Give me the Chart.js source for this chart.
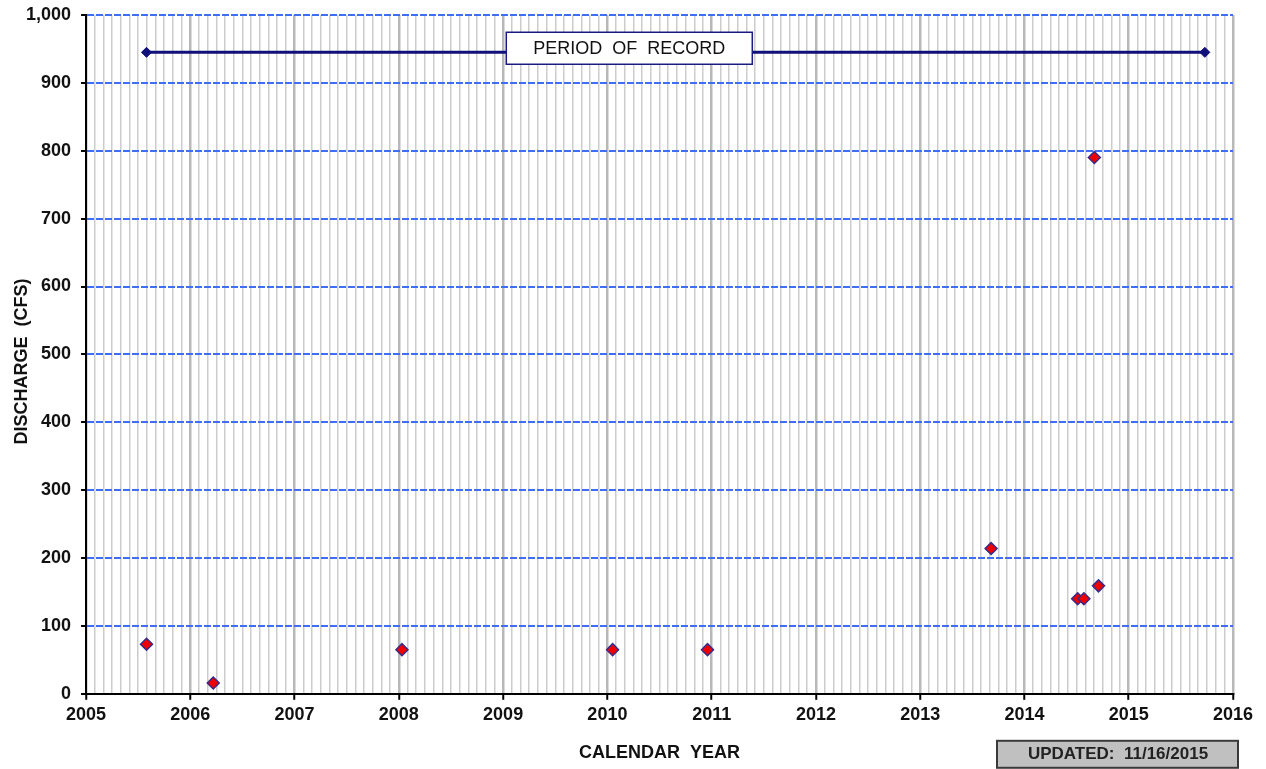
<!DOCTYPE html>
<html>
<head>
<meta charset="utf-8">
<script src="https://cdn.jsdelivr.net/npm/chart.js@4.4.1/dist/chart.umd.min.js"></script>
<style>
  html, body { margin: 0; padding: 0; background: #fff; }
</style>
</head>
<body>
<canvas id="myChart" width="1266" height="769"></canvas>
<script>
// measured discharges (decimal year, cfs)
const sampleYears = [2005.58, 2006.22, 2008.03, 2010.05, 2010.96, 2013.68, 2014.51, 2014.57, 2014.67, 2014.71];
const sampleDischarge = [73, 16, 65, 65, 65, 214, 140, 140, 790, 159];

// period of record bar
const recordYears = [2005.58, 2015.73];
const recordLevel = [945, 945];
const recordLabel = 'PERIOD  OF  RECORD';
const recordLabelAt = [2010.21, 951];

const yearLabels = ['2005', '2006', '2007', '2008', '2009', '2010', '2011', '2012', '2013', '2014', '2015', '2016'];
const yTitle = 'DISCHARGE  (CFS)';
const xTitle = 'CALENDAR  YEAR';
const updatedText = 'UPDATED:  11/16/2015';

const fontName = '"Liberation Sans", Arial, sans-serif';
const blueGrid = '#3d6ef5';

function isYear(v) {
    return Math.abs(v - Math.round(v)) < 1e-6;
}

const boxesPlugin = {
    id: 'boxes',
    afterDatasetsDraw(chart) {
        const ctx = chart.ctx;
        const area = chart.chartArea;
        const xs = chart.scales.x;
        const ys = chart.scales.y;
        // period of record label
        const cx = xs.getPixelForValue(recordLabelAt[0]);
        const cy = ys.getPixelForValue(recordLabelAt[1]);
        ctx.save();
        ctx.font = '18px ' + fontName;
        ctx.fillStyle = '#fff';
        ctx.strokeStyle = '#1a1a80';
        ctx.lineWidth = 1.5;
        ctx.fillRect(cx - 123, cy - 16, 246, 32);
        ctx.strokeRect(cx - 123, cy - 16, 246, 32);
        ctx.fillStyle = '#111';
        ctx.textAlign = 'center';
        ctx.textBaseline = 'middle';
        ctx.fillText(recordLabel, cx, cy + 1);

        // y axis title (drawn by hand so it can sit close to the labels)
        ctx.save();
        ctx.translate(area.left - 64, (area.top + area.bottom) / 2 + 7);
        ctx.rotate(-Math.PI / 2);
        ctx.font = 'bold 18px ' + fontName;
        ctx.fillText(yTitle, 0, 0);
        ctx.restore();

        // updated box, bottom right under the plot
        const right = area.right + 5;
        const top = area.bottom + 47;
        ctx.fillStyle = '#c0c0c0';
        ctx.strokeStyle = '#3a3a3a';
        ctx.lineWidth = 2;
        ctx.fillRect(right - 241, top, 241, 27);
        ctx.strokeRect(right - 241, top, 241, 27);
        ctx.fillStyle = '#222';
        ctx.font = 'bold 17px ' + fontName;
        ctx.fillText(updatedText, right - 120, top + 14);
        ctx.restore();
    }
};

const ctx = document.getElementById('myChart').getContext('2d');
const myChart = new Chart(ctx, {
    type: 'scatter',
    data: {
        datasets: [
            {
                label: 'Period of record',
                data: recordYears.map((x, i) => ({ x: x, y: recordLevel[i] })),
                showLine: true,
                borderColor: '#10107a',
                backgroundColor: '#10107a',
                borderWidth: 3,
                pointStyle: 'rectRot',
                pointRadius: 5,
                pointBorderWidth: 1
            },
            {
                label: 'Discharge',
                data: sampleYears.map((x, i) => ({ x: x, y: sampleDischarge[i] })),
                backgroundColor: '#ee0000',
                borderColor: '#3a2a8a',
                borderWidth: 1.5,
                pointStyle: 'rectRot',
                pointRadius: 6
            }
        ]
    },
    options: {
        responsive: false,
        animation: false,
        layout: { padding: { left: 16, right: 33, top: 15, bottom: 5 } },
        plugins: {
            legend: { display: false },
            tooltip: { enabled: false }
        },
        scales: {
            x: {
                type: 'linear',
                min: 2005,
                max: 2016,
                afterBuildTicks(scale) {
                    const ticks = [];
                    for (let y = 0; y < yearLabels.length; y++) {
                        const year = Number(yearLabels[y]);
                        ticks.push({ value: year });
                        if (y < yearLabels.length - 1) {
                            for (let m = 1; m < 12; m++) ticks.push({ value: year + m / 12 });
                        }
                    }
                    scale.ticks = ticks;
                },
                ticks: {
                    autoSkip: false,
                    maxRotation: 0,
                    padding: 4,
                    color: '#111',
                    font: { family: fontName, size: 18, weight: 'bold' },
                    callback: v => isYear(v) ? String(Math.round(v)) : ''
                },
                grid: {
                    color: c => isYear(c.tick.value) ? '#b8b8b8' : '#cccccc',
                    lineWidth: c => isYear(c.tick.value) ? 2.5 : 1.5,
                    tickColor: c => isYear(c.tick.value) ? '#000' : 'rgba(0,0,0,0)',
                    tickLength: 6,
                    tickWidth: 2
                },
                border: { color: '#000', width: 2 },
                title: {
                    display: true,
                    text: xTitle,
                    color: '#111',
                    font: { family: fontName, size: 18, weight: 'bold' },
                    padding: { top: 13, bottom: 0 }
                }
            },
            y: {
                min: 0,
                max: 1000,
                afterFit(scale) {
                    scale.paddingTop = 0;
                    scale.paddingBottom = 0;
                },
                ticks: {
                    stepSize: 100,
                    padding: 10,
                    color: '#111',
                    font: { family: fontName, size: 18, weight: 'bold' },
                    callback: v => v.toLocaleString('en-US')
                },
                grid: {
                    color: blueGrid,
                    lineWidth: 2,
                    tickColor: '#000',
                    tickLength: 5,
                    tickWidth: 2
                },
                border: { color: '#000', width: 2, dash: [7, 2] }
            }
        }
    },
    plugins: [boxesPlugin]
});
</script>
</body>
</html>
